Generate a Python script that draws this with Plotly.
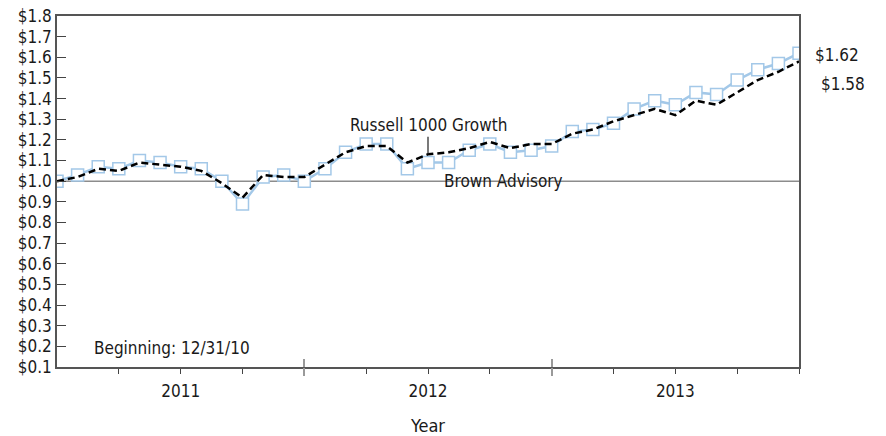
import plotly.graph_objects as go

months = list(range(37))  # month index from 12/31/10 to 12/31/13
brown_advisory = [1.00, 1.03, 1.07, 1.06, 1.10, 1.09, 1.07, 1.06, 1.00, 0.89,
                  1.02, 1.03, 1.00, 1.06, 1.14, 1.18, 1.18, 1.06, 1.09, 1.09,
                  1.15, 1.18, 1.14, 1.15, 1.17, 1.24, 1.25, 1.28, 1.35, 1.39,
                  1.37, 1.43, 1.42, 1.49, 1.54, 1.57, 1.62]
russell_1000_growth = [1.00, 1.02, 1.06, 1.05, 1.09, 1.08, 1.07, 1.05, 0.99, 0.92,
                       1.03, 1.02, 1.02, 1.08, 1.14, 1.17, 1.17, 1.09, 1.13, 1.14,
                       1.16, 1.19, 1.16, 1.18, 1.18, 1.23, 1.25, 1.29, 1.32, 1.35,
                       1.32, 1.39, 1.37, 1.43, 1.49, 1.53, 1.58]
year_labels = ["2011", "2012", "2013"]
year_label_pos = [6, 18, 30]
year_bounds = [12, 24]
y_ticks = [round(0.1 * k, 1) for k in range(1, 19)]

FONT = "DejaVu Sans Condensed, Liberation Sans, Arial, sans-serif"

fig = go.Figure()

fig.add_trace(go.Scatter(
    x=months, y=[1.0] * 37, mode="lines",
    line=dict(color="#8c8c8c", width=1.5), hoverinfo="skip", showlegend=False))

fig.add_trace(go.Scatter(
    x=months, y=brown_advisory, mode="lines+markers", name="Brown Advisory",
    line=dict(color="#a3c8e8", width=2.5),
    marker=dict(symbol="square", size=12, color="white",
                line=dict(color="#a3c8e8", width=1.5)),
    showlegend=False))

fig.add_trace(go.Scatter(
    x=months, y=russell_1000_growth, mode="lines", name="Russell 1000 Growth",
    line=dict(color="black", width=2.5, dash="7px,4px"),
    showlegend=False))

# overlay axes for the year-boundary ticks (gray, crossing the axis)
fig.add_trace(go.Scatter(x=[0, 36], y=[None, None], xaxis="x2", showlegend=False, hoverinfo="skip"))
fig.add_trace(go.Scatter(x=[0, 36], y=[None, None], xaxis="x3", showlegend=False, hoverinfo="skip"))

fig.update_layout(
    width=886, height=436,
    margin=dict(l=57, r=87, t=16, b=69, autoexpand=False),
    paper_bgcolor="white", plot_bgcolor="white",
    font=dict(family=FONT, size=17, color="#1a1a1a"),
    xaxis=dict(
        range=[0, 36], tickmode="array", tickvals=year_label_pos, ticktext=year_labels,
        ticks="outside", ticklen=5, tickcolor="#444", tickwidth=1,
        ticklabelstandoff=3, automargin=False,
        minor=dict(tickmode="array", tickvals=[3, 9, 15, 21, 27, 33, 36],
                   ticks="outside", ticklen=5, tickcolor="#444", tickwidth=1),
        showline=True, linecolor="#555", linewidth=1.5, mirror=True,
        showgrid=False, zeroline=False,
        tickfont=dict(size=17),
        title=dict(text="Year", font=dict(size=18), standoff=19),
    ),
    xaxis2=dict(
        overlaying="x", anchor="y", range=[0, 36], tickmode="array",
        tickvals=year_bounds, ticktext=["", ""], ticks="outside", ticklen=8,
        tickcolor="#9a9a9a", tickwidth=2, showline=False, showgrid=False, zeroline=False),
    xaxis3=dict(
        overlaying="x", anchor="y", range=[0, 36], tickmode="array",
        tickvals=year_bounds, ticktext=["", ""], ticks="inside", ticklen=8,
        tickcolor="#9a9a9a", tickwidth=2, showline=False, showgrid=False, zeroline=False),
    yaxis=dict(
        range=[0.1, 1.8], tickmode="array", tickvals=y_ticks,
        ticktext=["$%.1f" % v for v in y_ticks],
        ticks="inside", ticklen=9, tickcolor="#444", tickwidth=1,
        automargin=False,
        showline=True, linecolor="#555", linewidth=1.5, mirror=True,
        showgrid=False, zeroline=False, tickfont=dict(size=17),
    ),
    annotations=[
        dict(x=18, y=russell_1000_growth[18], xref="x", yref="y",
             text="Russell 1000 Growth", showarrow=True, arrowhead=0,
             arrowwidth=1.2, arrowcolor="#222", ax=0, ay=-29,
             font=dict(size=17)),
        dict(x=21.65, y=1.0, xref="x", yref="y", text="Brown Advisory",
             showarrow=False, font=dict(size=17), xanchor="center", yanchor="middle"),
        dict(x=36, y=brown_advisory[-1], xref="x", yref="y",
             text="$%.2f" % brown_advisory[-1], showarrow=False, xanchor="left",
             xshift=14, yshift=-2, font=dict(size=17)),
        dict(x=36, y=russell_1000_growth[-1], xref="x", yref="y",
             text="$%.2f" % russell_1000_growth[-1], showarrow=False, xanchor="left",
             xshift=20, yshift=-23, font=dict(size=17)),
        dict(x=1.7, y=0.2, xref="x", yref="y", text="Beginning: 12/31/10",
             showarrow=False, xanchor="left", yshift=-2, font=dict(size=17)),
    ],
)

fig.write_html("out.html", config={"displayModeBar": False},
               post_script="document.body.style.margin='0';")
